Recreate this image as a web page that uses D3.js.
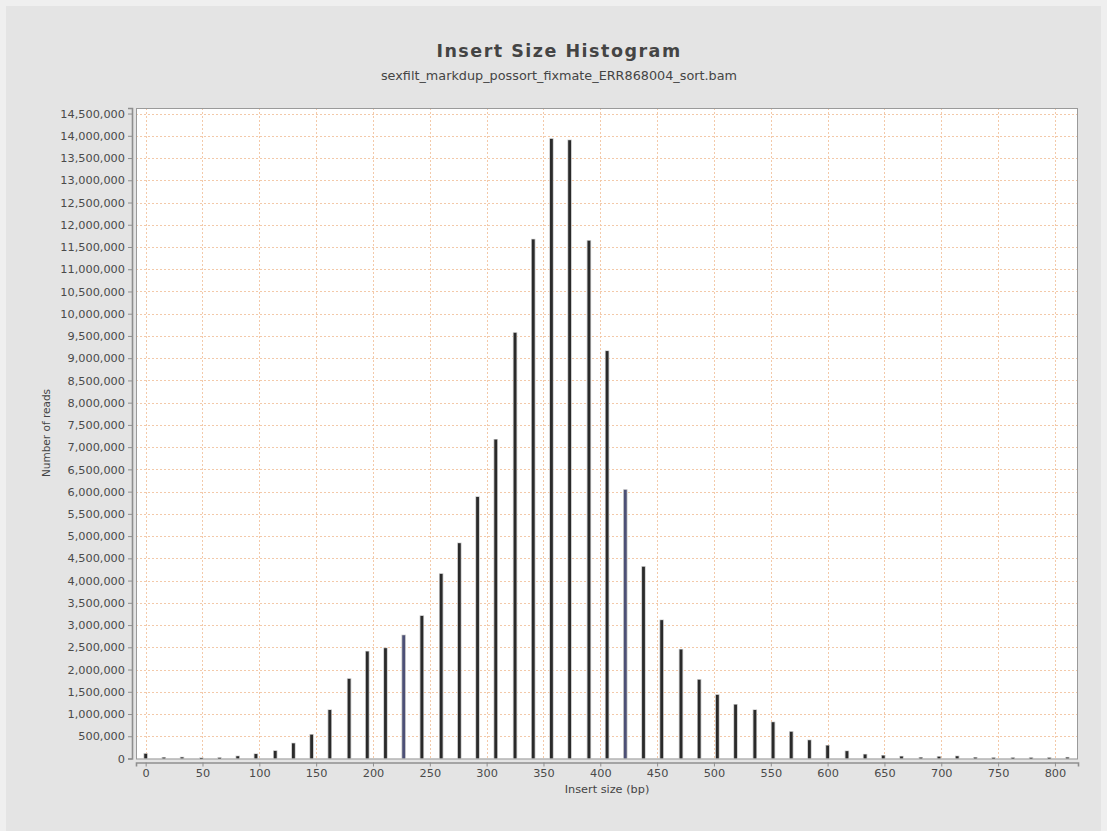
<!DOCTYPE html>
<html>
<head>
<meta charset="utf-8">
<script src="https://cdn.jsdelivr.net/npm/d3@7"></script>
<style>
  html, body { margin: 0; padding: 0; background: #efefef; }
  svg { display: block; font-family: "DejaVu Sans", sans-serif; }
</style>
</head>
<body>
<svg id="chart" width="1107" height="831"></svg>
<script>
// Insert-size bins (bp) and read counts per bin
const insertSizes = [0, 16, 32, 49, 65, 81, 97, 114, 130, 146, 162, 179, 195, 211, 227, 243, 260, 276,
  292, 308, 325, 341, 357, 373, 390, 406, 422, 438, 454, 471, 487, 503, 519, 536, 552, 568, 584,
  600, 617, 633, 649, 665, 682, 698, 714, 730, 746, 763, 779, 795, 811];
const readCounts = [105000, 20000, 25000, 10000, 15000, 50000, 100000, 170000, 340000, 535000,
  1090000, 1790000, 2405000, 2480000, 2770000, 3205000, 4150000, 4840000, 5880000, 7170000,
  9570000, 11670000, 13930000, 13900000, 11640000, 9160000, 6040000, 4310000, 3110000, 2450000,
  1770000, 1430000, 1210000, 1090000, 815000, 600000, 410000, 290000, 165000, 90000, 65000,
  45000, 20000, 40000, 50000, 20000, 15000, 15000, 15000, 15000, 22000];
// bins drawn in the highlight colour
const highlighted = [227, 422];

const xTicks = [0, 50, 100, 150, 200, 250, 300, 350, 400, 450, 500, 550, 600, 650, 700, 750, 800];
const yTicks = d3.range(0, 14500001, 500000);

const titleText = "Insert Size Histogram";
const subtitleText = "sexfilt_markdup_possort_fixmate_ERR868004_sort.bam";
const xLabel = "Insert size (bp)";
const yLabel = "Number of reads";

const svg = d3.select("#chart");

// chart panel
svg.append("rect").attr("x", 6).attr("y", 6).attr("width", 1095).attr("height", 825)
  .attr("fill", "#e4e4e4");

const plot = { left: 136, right: 1078, top: 108, bottom: 758.5 };

const x = d3.scaleLinear().domain([-8.5, 820.3]).range([plot.left, plot.right]);
const y = d3.scaleLinear().domain([0, 14625000]).range([plot.bottom, plot.top]);

// plot background
svg.append("rect")
  .attr("x", plot.left).attr("y", plot.top)
  .attr("width", plot.right - plot.left).attr("height", plot.bottom - plot.top)
  .attr("fill", "#ffffff");

// gridlines
const grid = svg.append("g").attr("stroke", "#f2c39f").attr("stroke-width", 0.9)
  .attr("stroke-dasharray", "2,2");
grid.selectAll("line.v").data(xTicks).join("line")
  .attr("x1", d => Math.round(x(d)) + 0.5).attr("x2", d => Math.round(x(d)) + 0.5)
  .attr("y1", plot.top).attr("y2", plot.bottom);
grid.selectAll("line.h").data(yTicks.slice(1)).join("line")
  .attr("y1", d => Math.round(y(d)) + 0.5).attr("y2", d => Math.round(y(d)) + 0.5)
  .attr("x1", plot.left).attr("x2", plot.right);

// bars
const bins = insertSizes.map((s, i) => ({ size: s, count: readCounts[i] }));
const bars = svg.append("g");
bars.selectAll("rect.halo").data(bins).join("rect")
  .attr("x", d => x(d.size) - 2.2).attr("width", 4.4)
  .attr("y", d => y(d.count) - 0.6).attr("height", d => y(0) - y(d.count) + 0.6)
  .attr("fill", "#c4c4c4");
bars.selectAll("rect.bar").data(bins).join("rect")
  .attr("x", d => x(d.size) - 1.4).attr("width", 2.8)
  .attr("y", d => y(d.count)).attr("height", d => Math.max(1, y(0) - y(d.count)))
  .attr("fill", d => highlighted.includes(d.size) ? "#4d5076" : "#2a2a2a");

// plot outline
svg.append("rect")
  .attr("x", plot.left + 0.5).attr("y", plot.top + 0.5)
  .attr("width", plot.right - plot.left - 1).attr("height", plot.bottom - plot.top)
  .attr("fill", "none").attr("stroke", "#9a9a9a").attr("stroke-width", 1);

// y axis
const yAxis = d3.axisLeft(y).tickValues(yTicks).tickFormat(d3.format(",")).tickSize(4).tickPadding(3);
const gy = svg.append("g").attr("transform", "translate(132,0)").call(yAxis);
// x axis
const xAxis = d3.axisBottom(x).tickValues(xTicks).tickFormat(d3.format("d")).tickSize(4).tickPadding(2);
const gx = svg.append("g").attr("transform", "translate(0,762.5)").call(xAxis);

[gx, gy].forEach(g => {
  g.select(".domain").attr("stroke", "#8e8e8e").attr("stroke-width", 1.6);
  g.selectAll(".tick line").attr("stroke", "#8e8e8e");
  g.selectAll(".tick text").attr("fill", "#4a4a4a")
    .style("font-family", "'DejaVu Sans', sans-serif").style("font-size", "11.3px");
});

// titles
svg.append("text").attr("x", 559).attr("y", 57).attr("text-anchor", "middle")
  .attr("font-size", "17.5px").attr("font-weight", "bold").attr("fill", "#444")
  .attr("letter-spacing", "1.5px")
  .text(titleText);
svg.append("text").attr("x", 559).attr("y", 80).attr("text-anchor", "middle")
  .attr("font-size", "12.8px").attr("fill", "#444")
  .text(subtitleText);

// axis labels
svg.append("text").attr("x", 607).attr("y", 793).attr("text-anchor", "middle")
  .attr("font-size", "11.3px").attr("fill", "#444").text(xLabel);
svg.append("text").attr("transform", "translate(50,433) rotate(-90)").attr("text-anchor", "middle")
  .attr("font-size", "10.5px").attr("fill", "#444").text(yLabel);
</script>
</body>
</html>
